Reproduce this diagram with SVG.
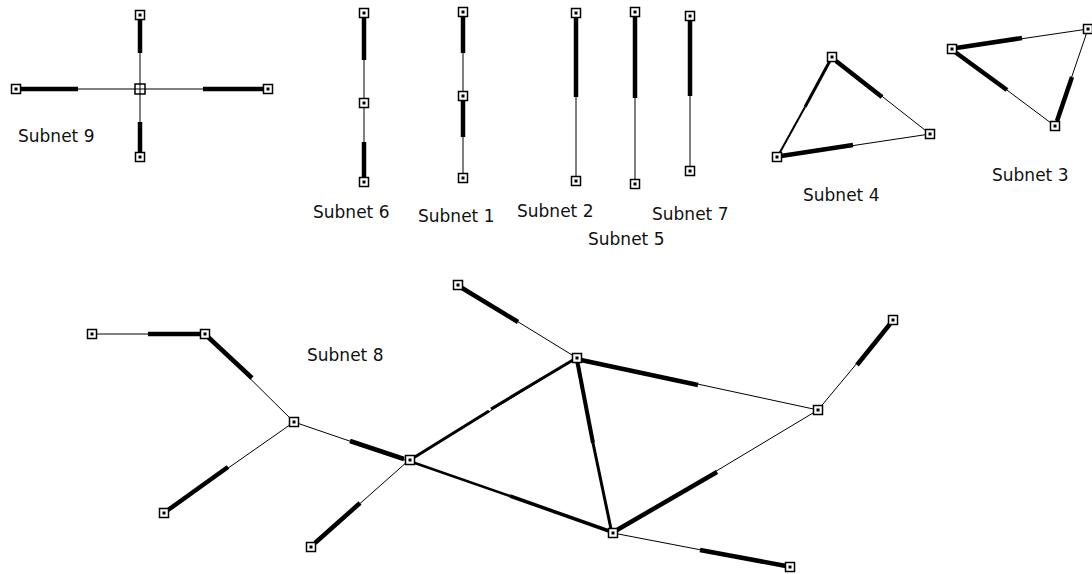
<svg xmlns="http://www.w3.org/2000/svg" width="1092" height="574" viewBox="0 0 1092 574">
<style>
.t{stroke:#000;stroke-width:1;fill:none}
.k{stroke:#000;stroke-width:4.5;fill:none}
.m{stroke:#000;stroke-width:3;fill:none}
text{font-family:"DejaVu Sans",sans-serif;font-size:17px;fill:#111}
</style>
<defs>
<g id="nd"><rect x="-4.5" y="-4.5" width="9" height="9" fill="#fff" stroke="#000" stroke-width="1.5"/><rect x="-1.5" y="-1.5" width="3" height="3" fill="#000"/></g>
</defs>
<rect width="1092" height="574" fill="#fff"/>
<g id="connectors">
<!-- Subnet 9 -->
<line class="t" x1="140" y1="15" x2="140" y2="157"/>
<line class="t" x1="16" y1="89" x2="268" y2="89"/>
<line class="k" x1="140" y1="19" x2="140" y2="53"/>
<line class="k" x1="140" y1="122" x2="140" y2="153"/>
<line class="k" x1="20" y1="89" x2="78" y2="89"/>
<line class="k" x1="203" y1="89" x2="264" y2="89"/>
<!-- Subnet 6 -->
<line class="t" x1="364" y1="13" x2="364" y2="182"/>
<line class="k" x1="364" y1="17" x2="364" y2="60"/>
<line class="k" x1="364" y1="142" x2="364" y2="178"/>
<!-- Subnet 1 -->
<line class="t" x1="463" y1="12" x2="463" y2="178"/>
<line class="k" x1="463" y1="16" x2="463" y2="53"/>
<line class="k" x1="463" y1="100" x2="463" y2="137"/>
<!-- Subnet 2 -->
<line class="t" x1="576" y1="13" x2="576" y2="181"/>
<line class="k" x1="576" y1="17" x2="576" y2="97"/>
<!-- Subnet 5 -->
<line class="t" x1="635" y1="12" x2="635" y2="184"/>
<line class="k" x1="635" y1="16" x2="635" y2="98"/>
<!-- Subnet 7 -->
<line class="t" x1="690" y1="16" x2="690" y2="171"/>
<line class="k" x1="690" y1="20" x2="690" y2="96"/>
<!-- Subnet 4 -->
<line class="t" x1="832" y1="57" x2="930" y2="134"/>
<line class="k" x1="836" y1="61" x2="882" y2="97"/>
<line class="m" x1="832" y1="57" x2="805" y2="107"/>
<line style="stroke:#000;stroke-width:2" x1="805" y1="107" x2="779" y2="154"/>
<line class="t" x1="777" y1="157" x2="930" y2="134"/>
<line class="k" x1="781" y1="156" x2="853" y2="145"/>
<!-- Subnet 3 -->
<line class="t" x1="952" y1="49" x2="1088" y2="29"/>
<line class="k" x1="956" y1="48" x2="1022" y2="38"/>
<line class="t" x1="952" y1="49" x2="1055" y2="126"/>
<line class="k" x1="955" y1="52" x2="1007" y2="90"/>
<line class="t" x1="1088" y1="29" x2="1055" y2="126"/>
<line class="k" x1="1072" y1="77" x2="1057" y2="121"/>
<!-- Subnet 8 -->
<line class="t" x1="92" y1="334" x2="205" y2="334"/>
<line class="k" x1="148" y1="334" x2="201" y2="334"/>
<line class="t" x1="205" y1="334" x2="294" y2="422"/>
<line class="k" x1="208" y1="337" x2="252" y2="378"/>
<line class="t" x1="294" y1="422" x2="164" y2="513"/>
<line class="k" x1="228" y1="467" x2="168" y2="510"/>
<line class="t" x1="294" y1="422" x2="408" y2="461"/>
<line class="k" x1="350" y1="441" x2="404" y2="459"/>
<line class="t" x1="408" y1="461" x2="311" y2="547"/>
<line class="k" x1="360" y1="503" x2="315" y2="543"/>
<line class="t" x1="458" y1="285" x2="577" y2="358"/>
<line class="k" x1="462" y1="288" x2="518" y2="322"/>
<line class="t" x1="410" y1="460" x2="577" y2="358"/>
<line class="m" x1="410" y1="460" x2="489" y2="411"/>
<line class="m" x1="491" y1="409" x2="573" y2="360"/>
<line style="stroke:#000;stroke-width:4" x1="577" y1="360" x2="593" y2="443"/>
<line class="m" x1="593" y1="443" x2="611" y2="529"/>
<line style="stroke:#000;stroke-width:2.5" x1="412" y1="462" x2="510" y2="496"/>
<line style="stroke:#000;stroke-width:3.5" x1="510" y1="496" x2="609" y2="531"/>
<line class="t" x1="577" y1="358" x2="818" y2="410"/>
<line class="k" x1="581" y1="360" x2="698" y2="385"/>
<line class="t" x1="818" y1="410" x2="893" y2="320"/>
<line class="k" x1="857" y1="365" x2="890" y2="324"/>
<line class="t" x1="613" y1="533" x2="818" y2="410"/>
<line class="k" x1="617" y1="530" x2="717" y2="472"/>
<line class="t" x1="613" y1="533" x2="790" y2="567"/>
<line class="k" x1="700" y1="550" x2="786" y2="566"/>
</g>
<g id="n9c"><rect x="135" y="84" width="10" height="10" fill="#fff" stroke="#000" stroke-width="1.5"/><line x1="140" y1="84" x2="140" y2="94" stroke="#000" stroke-width="1"/><line x1="135" y1="89" x2="145" y2="89" stroke="#000" stroke-width="1"/></g>
<g id="n9t"><use href="#nd" x="140" y="15"/></g>
<g id="n9b"><use href="#nd" x="140" y="157"/></g>
<g id="n9l"><use href="#nd" x="16" y="89"/></g>
<g id="n9r"><use href="#nd" x="268" y="89"/></g>
<g id="n6t"><use href="#nd" x="364" y="13"/></g>
<g id="n6m"><use href="#nd" x="364" y="103"/></g>
<g id="n6b"><use href="#nd" x="364" y="182"/></g>
<g id="n1t"><use href="#nd" x="463" y="12"/></g>
<g id="n1m"><use href="#nd" x="463" y="96"/></g>
<g id="n1b"><use href="#nd" x="463" y="178"/></g>
<g id="n2t"><use href="#nd" x="576" y="13"/></g>
<g id="n2b"><use href="#nd" x="576" y="181"/></g>
<g id="n5t"><use href="#nd" x="635" y="12"/></g>
<g id="n5b"><use href="#nd" x="635" y="184"/></g>
<g id="n7t"><use href="#nd" x="690" y="16"/></g>
<g id="n7b"><use href="#nd" x="690" y="171"/></g>
<g id="n4a"><use href="#nd" x="832" y="57"/></g>
<g id="n4b"><use href="#nd" x="930" y="134"/></g>
<g id="n4c"><use href="#nd" x="777" y="157"/></g>
<g id="n3a"><use href="#nd" x="952" y="49"/></g>
<g id="n3b"><use href="#nd" x="1088" y="29"/></g>
<g id="n3c"><use href="#nd" x="1055" y="126"/></g>
<g id="n8a"><use href="#nd" x="92" y="334"/></g>
<g id="n8b"><use href="#nd" x="205" y="334"/></g>
<g id="n8c"><use href="#nd" x="294" y="422"/></g>
<g id="n8d"><use href="#nd" x="164" y="513"/></g>
<g id="n8e"><use href="#nd" x="410" y="460"/></g>
<g id="n8f"><use href="#nd" x="311" y="547"/></g>
<g id="n8g"><use href="#nd" x="458" y="285"/></g>
<g id="n8h"><use href="#nd" x="577" y="358"/></g>
<g id="n8i"><use href="#nd" x="613" y="533"/></g>
<g id="n8j"><use href="#nd" x="818" y="410"/></g>
<g id="n8k"><use href="#nd" x="893" y="320"/></g>
<g id="n8l"><use href="#nd" x="790" y="567"/></g>
<g id="labels">
<text x="18" y="142">Subnet 9</text>
<text x="313" y="218">Subnet 6</text>
<text x="418" y="222">Subnet 1</text>
<text x="517" y="217">Subnet 2</text>
<text x="652" y="220">Subnet 7</text>
<text x="588" y="245">Subnet 5</text>
<text x="803" y="201">Subnet 4</text>
<text x="992" y="181">Subnet 3</text>
<text x="307" y="361">Subnet 8</text>
</g>
</svg>
